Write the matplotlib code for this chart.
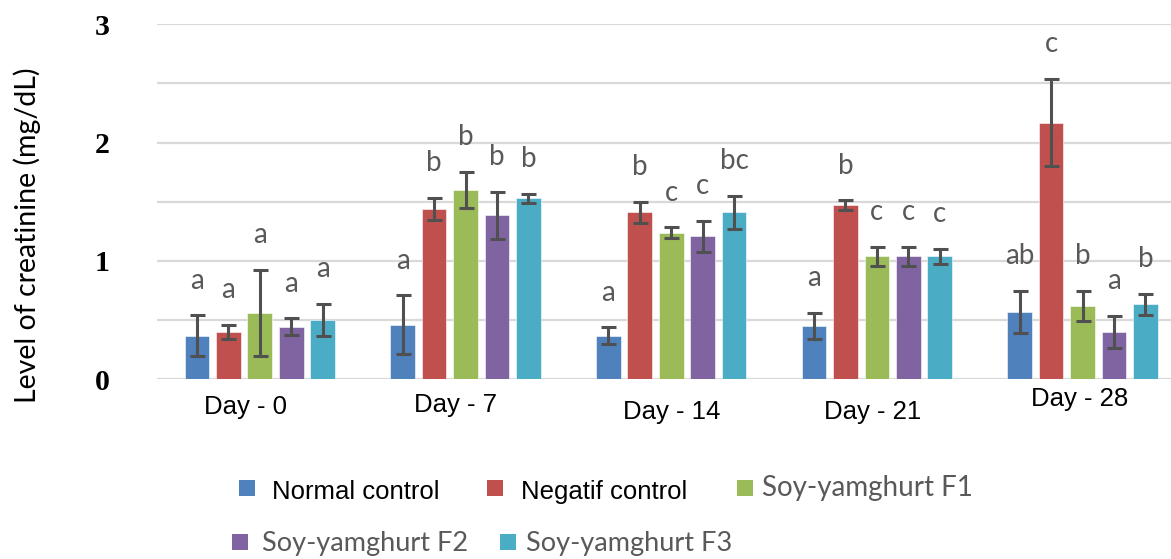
import matplotlib
matplotlib.use('Agg')
import matplotlib.pyplot as plt
from matplotlib.patches import Rectangle
import numpy as np

# values (mg/dL)
days = ['Day - 0', 'Day - 7', 'Day - 14', 'Day - 21', 'Day - 28']
groups = ['Normal control', 'Negatif control', 'Soy-yamghurt F1',
          'Soy-yamghurt F2', 'Soy-yamghurt F3']

normal = [0.37, 0.46, 0.37, 0.45, 0.57]
normal_err = [0.17, 0.25, 0.07, 0.11, 0.175]
negatif = [0.40, 1.44, 1.41, 1.47, 2.17]
negatif_err = [0.063, 0.095, 0.087, 0.042, 0.37]
f1 = [0.56, 1.60, 1.24, 1.04, 0.62]
f1_err = [0.365, 0.15, 0.045, 0.08, 0.13]
f2 = [0.445, 1.385, 1.21, 1.04, 0.40]
f2_err = [0.07, 0.197, 0.13, 0.08, 0.134]
f3 = [0.50, 1.53, 1.41, 1.04, 0.635]
f3_err = [0.138, 0.04, 0.14, 0.062, 0.09]

normal_sig = ['a', 'a', 'a', 'a', 'ab']
negatif_sig = ['a', 'b', 'b', 'b', 'c']
f1_sig = ['a', 'b', 'c', 'c', 'b']
f2_sig = ['a', 'b', 'c', 'c', 'a']
f3_sig = ['a', 'b', 'bc', 'c', 'b']

yticks = [0, 0.5, 1, 1.5, 2, 2.5, 3]
ytick_labels = ['0', '', '1', '', '2', '', '3']

COLORS = ['#4F81BD', '#C0504D', '#9BBB59', '#8064A2', '#4BACC6']
ERR_COLOR = '#595959'
W, H = 1171, 559


def px(x, y):
    return x / W, 1 - y / H


series = [(normal, normal_err, normal_sig),
          (negatif, negatif_err, negatif_sig),
          (f1, f1_err, f1_sig),
          (f2, f2_err, f2_sig),
          (f3, f3_err, f3_sig)]

fig = plt.figure(figsize=(W / 100, H / 100), dpi=100)
ax = fig.add_axes([157 / W, (H - 379.3) / H, 1 - 157 / W, 355 / H])

x = np.arange(len(days))
pitch = 0.153
width = 0.12
for i, (vals, errs, sig) in enumerate(series):
    pos = x + (i - 2) * pitch
    ax.bar(pos, vals, width, color=COLORS[i], edgecolor='white',
           linewidth=0.4, zorder=2, label=groups[i])
    ax.errorbar(pos, vals, yerr=errs, fmt='none', ecolor='#505050',
                elinewidth=2.2, capsize=5.4, capthick=2.2, zorder=3)
    for p, v, e, s in zip(pos, vals, errs, sig):
        ax.annotate(s, xy=(p, v + e), xytext=(0, 25), textcoords='offset points',
                    ha='center', va='center', fontsize=20, color=ERR_COLOR,
                    family=['Lato', 'DejaVu Sans'])

ax.set_xlim(-0.5, 4.43)
ax.set_ylim(0, 3)
ax.set_yticks(yticks)
ax.set_yticklabels(ytick_labels, family=['Liberation Serif', 'DejaVu Serif'],
                   fontweight='bold', fontsize=21.5)
ax.tick_params(axis='y', length=0, pad=34)
ax.set_xticks([])
ax.grid(axis='y', color='#D9D9D9', linewidth=1.6, zorder=0)
ax.set_axisbelow(True)
for sp in ax.spines.values():
    sp.set_visible(False)

# day labels are slightly shifted in the original
nudge_x = [-14, -10, 0, -4, -3]
drop_y = [28, 26, 33, 33, 20]
for i, d in enumerate(days):
    ax.annotate(d, xy=(x[i], 0), xycoords=('data', 'axes fraction'),
                xytext=(nudge_x[i] * 0.72, -drop_y[i] * 0.72),
                textcoords='offset points', ha='center', va='center',
                fontsize=18.5, color='black',
                family=['Liberation Sans', 'DejaVu Sans'])

fig.text(*px(27, 235), 'Level of creatinine (mg/dL)', rotation=90,
         ha='center', va='center', fontsize=20.5, color='black',
         family=['Lato', 'DejaVu Sans'])

# legend, drawn by hand to follow the original's layout
legend_items = [
    (0, 239, 480, 272, 492, 'Liberation Sans', 18.5, 'black'),
    (1, 487, 480, 521, 492, 'Liberation Sans', 18.5, 'black'),
    (2, 737, 480, 762, 488, 'Lato', 20, '#595959'),
    (3, 232, 534, 262, 543, 'Lato', 19.5, '#595959'),
    (4, 500, 534, 526, 543, 'Lato', 19.5, '#595959'),
]
for idx, sx, sy, tx, ty, fam, fs, col in legend_items:
    x0, y0 = px(sx, sy + 16)
    fig.patches.append(Rectangle((x0, y0), 16 / W, 16 / H, facecolor=COLORS[idx],
                                 transform=fig.transFigure, figure=fig))
    fig.text(*px(tx, ty), groups[idx], ha='left', va='center', fontsize=fs,
             color=col, family=[fam, 'DejaVu Sans'])

fig.savefig('out.png', dpi=100)
